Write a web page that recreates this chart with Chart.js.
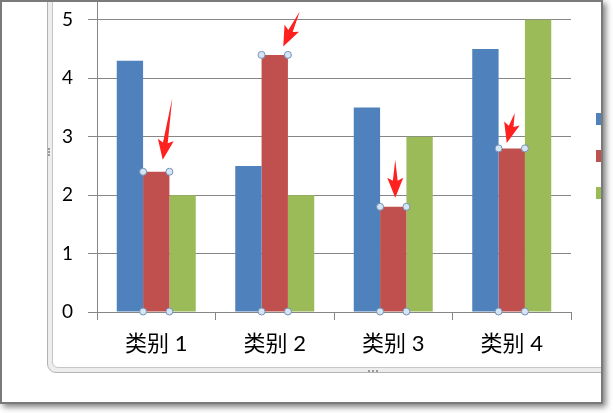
<!DOCTYPE html>
<html>
<head>
<meta charset="utf-8">
<script src="https://cdn.jsdelivr.net/npm/chart.js@4.4.0/dist/chart.umd.min.js"></script>
<style>
  html, body { margin:0; padding:0; background:#fff; width:613px; height:413px; overflow:hidden; }
  #win { position:absolute; left:0; top:0; width:603px; height:404px; box-sizing:border-box;
         border:2px solid #7a7a7a; box-shadow:3px 3px 6px rgba(0,0,0,0.5); overflow:hidden; background:#fff; }
  #frame { position:absolute; left:45px; top:-30px; width:700px; height:401px; box-sizing:border-box;
           border:1px solid #b4b4b4; border-radius:0 0 0 9px; background:#ededed; padding:4px; }
  #frame .in { width:100%; height:100%; box-sizing:border-box; border:1px solid #c6c6c6;
               border-radius:0 0 0 6px; background:#fff; }
  .grip { position:absolute; border:0 dotted #9a9a9a; }
  #cv { position:absolute; left:54px; top:-64px; }
</style>
</head>
<body>
<div id="win">
  <div id="frame"><div class="in"></div></div>
  <div class="grip" style="left:46px;top:146px;height:8px;border-left-width:2px;"></div>
  <div class="grip" style="left:366px;top:368px;width:10px;border-top-width:2px;"></div>
  <canvas id="cv" width="575" height="436" style="width:575px;height:436px;"></canvas>
</div>
<script>
// chart data
const categories = ['类别 1', '类别 2', '类别 3', '类别 4'];
const seriesNames = ['系列 1', '系列 2', '系列 3'];
const series1 = [4.3, 2.5, 3.5, 4.5];
const series2 = [2.4, 4.4, 1.8, 2.8];
const series3 = [2, 2, 3, 5];
const yTicks = [0, 1, 2, 3, 4, 5, 6];
const yMax = 6.4; // axis runs past the top of the screenshot

const colors = ['#4F81BD', '#C0504D', '#9BBB59'];
const selectedSeries = 1;

// red arrows, offsets from the top centre of each selected bar
const arrowTip = [[6.5, -12], [8.5, -8.5], [2, -9], [-5, -5.5]];
const arrowTail = [[16, -73.5], [25, -43.5], [2, -47], [3, -35.5]];

const axisGray = '#868686';

function drawArrow(ctx, tx, ty, hx, hy) {
  const dx = hx - tx, dy = hy - ty;
  const len = Math.sqrt(dx * dx + dy * dy);
  const ux = dx / len, uy = dy / len;
  const nx = -uy, ny = ux;
  const headLen = 17, wing = 8, shaft = 2.4;
  const bx = hx - ux * headLen, by = hy - uy * headLen;
  const wx = bx - ux * 3, wy = by - uy * 3;
  ctx.beginPath();
  ctx.moveTo(tx, ty);
  ctx.lineTo(bx + nx * shaft, by + ny * shaft);
  ctx.lineTo(wx + nx * wing, wy + ny * wing);
  ctx.lineTo(hx, hy);
  ctx.lineTo(wx - nx * wing, wy - ny * wing);
  ctx.lineTo(bx - nx * shaft, by - ny * shaft);
  ctx.closePath();
  ctx.fillStyle = '#ff2020';
  ctx.fill();
}

const selectionPlugin = {
  id: 'selection',
  afterDatasetsDraw(chart) {
    const ctx = chart.ctx;
    const meta = chart.getDatasetMeta(selectedSeries);
    ctx.save();
    meta.data.forEach((bar, i) => {
      const p = bar.getProps(['x', 'y', 'base', 'width'], true);
      const l = p.x - p.width / 2, r = p.x + p.width / 2;
      [[l, p.y], [r, p.y], [l, p.base], [r, p.base]].forEach(([cx, cy]) => {
        ctx.beginPath();
        ctx.arc(cx, cy, 3.5, 0, Math.PI * 2);
        ctx.fillStyle = '#d6e5f3';
        ctx.fill();
        ctx.lineWidth = 1;
        ctx.strokeStyle = '#7393b7';
        ctx.stroke();
      });
      drawArrow(ctx,
        p.x + arrowTail[i][0], p.y + arrowTail[i][1],
        p.x + arrowTip[i][0], p.y + arrowTip[i][1]);
    });
    ctx.restore();
  }
};

const ctx = document.getElementById('cv').getContext('2d');

new Chart(ctx, {
  type: 'bar',
  data: {
    labels: categories,
    datasets: [series1, series2, series3].map((values, i) => ({
      label: seriesNames[i],
      data: values,
      backgroundColor: colors[i],
      borderWidth: 0,
      categoryPercentage: 3 / 4.5,
      barPercentage: 1
    }))
  },
  options: {
    responsive: false,
    animation: false,
    layout: { padding: 0 },
    plugins: {
      legend: {
        position: 'right',
        maxWidth: 60,
        labels: {
          boxWidth: 12,
          boxHeight: 12,
          padding: 25,
          color: '#000',
          font: { family: 'Lato, "Noto Sans CJK SC"', size: 12 }
        }
      },
      tooltip: { enabled: false }
    },
    scales: {
      x: {
        afterFit: s => {
          s.height = 62;
          s.paddingLeft = 0;
          s.paddingRight = 0;
        },
        grid: {
          offset: true,
          drawOnChartArea: false,
          drawTicks: true,
          tickLength: 8,
          color: axisGray
        },
        border: { display: true, color: axisGray },
        ticks: {
          padding: 11,
          color: '#000',
          font: { family: 'Lato, "Noto Sans CJK SC"', size: 22 }
        }
      },
      y: {
        min: yTicks[0],
        max: yMax,
        afterFit: s => {
          s.width = 41;
          s.paddingTop = 0;
          s.paddingBottom = 0;
        },
        afterBuildTicks: s => { s.ticks = yTicks.map(v => ({ value: v })); },
        grid: { color: axisGray, tickLength: 9 },
        border: { display: true, color: axisGray },
        ticks: {
          padding: 15,
          color: '#000',
          font: { family: 'Lato', size: 19 }
        }
      }
    }
  },
  plugins: [selectionPlugin]
});
</script>
</body>
</html>
